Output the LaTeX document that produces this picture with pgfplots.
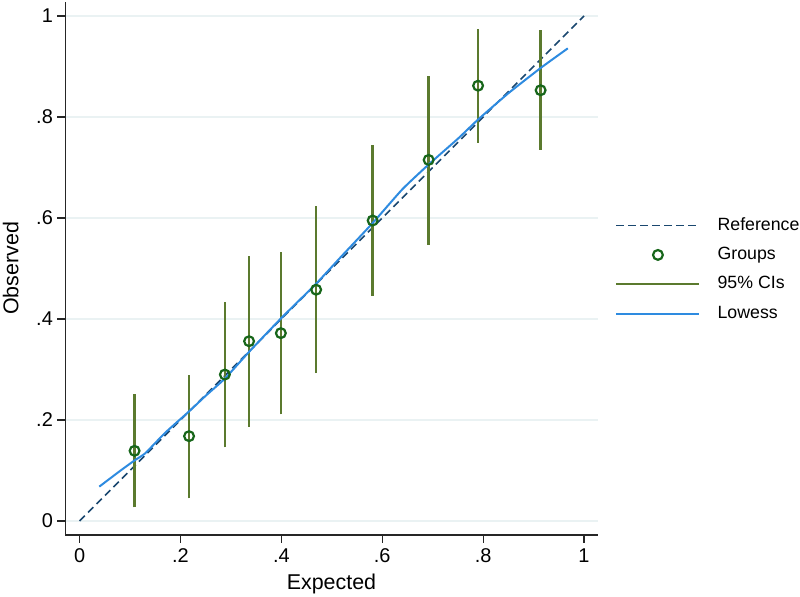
\documentclass[border=0pt]{standalone}
\usepackage{fontspec}
\setmainfont{Liberation Sans}
\usepackage{pgfplots}
\pgfplotsset{compat=1.18}
\definecolor{refc}{HTML}{1A476F}
\definecolor{grpc}{HTML}{17661A}
\definecolor{cic}{HTML}{5B7A2E}
\definecolor{lowc}{HTML}{2E8BE0}
\definecolor{gridc}{HTML}{EAF2F3}
\pgfplotsset{
  legline/.style={legend image code/.code={\draw[##1] (0bp,0bp) -- (83bp,0bp);}},
  legmark/.style={legend image code/.code={\path[draw=none,fill=none] (0bp,0bp) -- (83bp,0bp);
    \draw[mark repeat=1,mark phase=1,##1] plot coordinates {(41.5bp,0bp)};}},
}
\begin{document}
\begin{tikzpicture}
\path[use as bounding box] (0,0) rectangle (800bp,597bp);
\begin{axis}[
  x=504.4bp, y=505bp,
  anchor=origin, at={(79.6bp,76bp)},
  xmin=-0.0282, xmax=1.0268, ymin=-0.0277, ymax=1.0277,
  axis x line=bottom, axis y line=left,
  axis line style={-, line width=1.1bp, black!85},
  xtick={0,0.2,0.4,0.6,0.8,1}, xticklabels={0,.2,.4,.6,.8,1},
  ytick={0,0.2,0.4,0.6,0.8,1}, yticklabels={0,.2,.4,.6,.8,1},
  tick align=outside, major tick length=8bp,
  tick style={line width=1.1bp, black!85},
  ymajorgrids, grid style={gridc, line width=1.5bp},
  tick label style={font=\fontsize{20}{24}\selectfont},
  xticklabel style={yshift=-2bp},
  yticklabel style={xshift=-1bp},
  xlabel={Expected}, ylabel={Observed},
  label style={font=\fontsize{21.5}{25}\selectfont},
  xlabel style={at={(axis description cs:0.5,0)}, anchor=base, yshift=-55bp},
  ylabel style={at={(axis description cs:-0.0883,0.5)}, anchor=base},
  unbounded coords=jump,
  legend style={at={(axis description cs:1.0329,0.498)}, anchor=west,
    draw=none, fill=none, inner sep=0pt, row sep=12.3bp, column sep=0pt,
    font=\fontsize{17.8}{20}\selectfont,
    nodes={inner sep=0pt, text height=13bp, text depth=4bp}},
  legend cell align=left,
]
\addplot[refc, line width=1.6bp, dash pattern=on 7.5bp off 4.5bp, legline]
  coordinates {(0,0) (1,1)};
\addlegendentry{\hspace{17bp}Reference}

\addplot[cic, line width=2.4bp, forget plot] coordinates {
 (0.109,0.027) (0.109,0.252) (nan,nan)
 (0.217,0.045) (0.217,0.289) (nan,nan)
 (0.288,0.146) (0.288,0.433) (nan,nan)
 (0.336,0.187) (0.336,0.524) (nan,nan)
 (0.399,0.211) (0.399,0.532) (nan,nan)
 (0.469,0.293) (0.469,0.623) (nan,nan)
 (0.581,0.446) (0.581,0.744) (nan,nan)
 (0.692,0.547) (0.692,0.882) (nan,nan)
 (0.790,0.749) (0.790,0.975) (nan,nan)
 (0.914,0.735) (0.914,0.973)
};

\addplot[only marks, mark=o, mark size=4.9bp, grpc,
  mark options={fill=white, line width=2.2bp}, legmark]
  coordinates {
 (0.109,0.139) (0.217,0.168) (0.288,0.290) (0.336,0.356) (0.399,0.372)
 (0.469,0.458) (0.581,0.595) (0.692,0.715) (0.790,0.862) (0.914,0.853)
};
\addlegendentry{\hspace{17bp}Groups}

\addlegendimage{cic, line width=2.4bp, legline}
\addlegendentry{\hspace{17bp}95\% CIs}

\addplot[lowc, line width=2bp, smooth, tension=0.3, legline]
  coordinates {
 (0.039,0.068) (0.080,0.099) (0.109,0.120) (0.130,0.134) (0.170,0.175)
 (0.217,0.217) (0.250,0.248) (0.288,0.282) (0.336,0.335) (0.400,0.402)
 (0.469,0.470) (0.520,0.525) (0.581,0.590) (0.640,0.657) (0.692,0.706)
 (0.750,0.757) (0.790,0.795) (0.850,0.847) (0.914,0.897) (0.968,0.936)
};
\addlegendentry{\hspace{17bp}Lowess}
\end{axis}
\end{tikzpicture}
\end{document}
